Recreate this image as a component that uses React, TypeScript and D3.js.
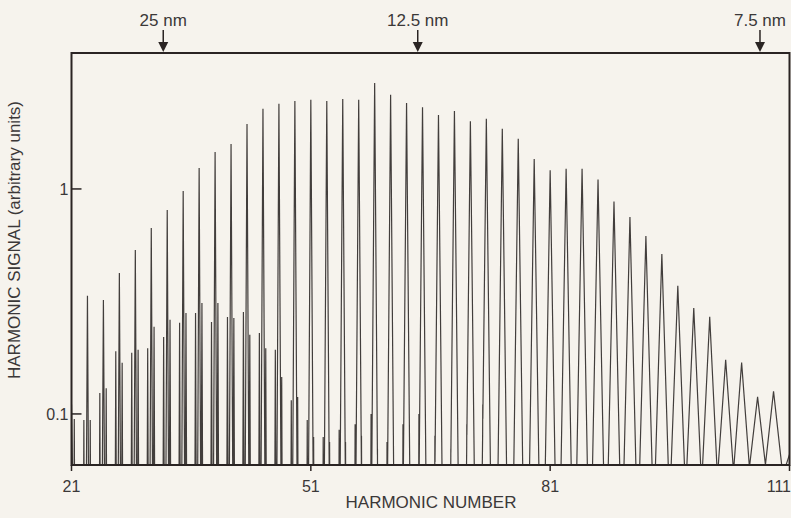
import React from 'react';
import { scaleLinear, scaleLog, line, range } from 'd3';

// odd harmonics, 21 ... 111
const harmonics = [
  21, 23, 25, 27, 29, 31, 33, 35, 37, 39, 41, 43, 45, 47, 49, 51, 53, 55, 57, 59, 61, 63, 65,
  67, 69, 71, 73, 75, 77, 79, 81, 83, 85, 87, 89, 91, 93, 95, 97, 99, 101, 103, 105, 107, 109, 111,
];
// main peak heights (arbitrary units)
const peakSignal = [
  0.11, 0.335, 0.321, 0.423, 0.536, 0.671, 0.807, 0.98, 1.24, 1.46, 1.585, 1.945, 2.27, 2.39,
  2.46, 2.49, 2.46, 2.51, 2.49, 2.96, 2.62, 2.41, 2.31, 2.13, 2.22, 2.0, 2.05, 1.85, 1.67, 1.36,
  1.21, 1.23, 1.23, 1.1, 0.88, 0.751, 0.618, 0.514, 0.371, 0.296, 0.27, 0.174, 0.169, 0.119,
  0.126, 0.066,
];
// satellite peaks just below / above each harmonic
const sideLow = [
  0.0, 0.094, 0.124, 0.19, 0.187, 0.196, 0.22, 0.254, 0.281, 0.256, 0.27, 0.284, 0.229, 0.193,
  0.115, 0.094, 0.079, 0.085, 0.09, 0.1, 0.075, 0.09, 0.1, 0.08, 0.07, 0.09, 0.11, 0.085, 0.08,
  0.075, 0.09, 0.08, 0.085, 0.075, 0.09, 0.08, 0.07, 0.075, 0.07, 0.065, 0.065, 0.07, 0.065,
  0.06, 0.06, 0.0,
];
const sideHigh = [
  0.095, 0.094, 0.13, 0.169, 0.193, 0.244, 0.262, 0.281, 0.311, 0.311, 0.267, 0.225, 0.196,
  0.146, 0.119, 0.079, 0.075, 0.075, 0.08, 0.07, 0.08, 0.075, 0.07, 0.085, 0.09, 0.075, 0.08,
  0.07, 0.09, 0.07, 0.08, 0.075, 0.09, 0.08, 0.07, 0.075, 0.08, 0.07, 0.075, 0.07, 0.065, 0.065,
  0.07, 0.06, 0.065, 0.0,
];

const xTicks = [21, 51, 81, 111];
const yTicks = [0.1, 1];
const yTickLabels = ['0.1', '1'];

const wavelengthLabels = ['25 nm', '12.5 nm', '7.5 nm'];
const wavelengthHarmonic = [32.5, 64.4, 107.3];

const W = 791;
const H = 518;
const plot = { left: 71.5, right: 789.5, top: 53, bottom: 465 };
const yMin = 0.0593;
const yMax = 4.02;

const ink = '#2a2423';
const textColor = '#3b3838';
const font = 'Liberation Sans, Arial, sans-serif';

// each line is a sharp cusp (straight sides on the log axis); its foot widens with order
function signalAt(h: number) {
  let v = 0.02;
  harmonics.forEach((c, i) => {
    const foot = 0.12 + 0.9 * Math.pow((c - 21) / 88, 1.6);
    const s = foot / Math.log(Math.max(peakSignal[i] / yMin, 1.3));
    v = Math.max(v, peakSignal[i] * Math.exp(-Math.abs(h - c) / s));
    const ss = 0.045;
    v = Math.max(v, sideLow[i] * Math.exp(-Math.abs(h - (c - 0.45)) / ss));
    v = Math.max(v, sideHigh[i] * Math.exp(-Math.abs(h - (c + 0.35)) / ss));
  });
  return v;
}

export default function App() {
  const x = scaleLinear().domain([21, 111]).range([plot.left, plot.right]);
  const y = scaleLog().domain([yMin, yMax]).range([plot.bottom, plot.top]);

  const samples = range(20.5, 111.5, 0.005).map(h => [h, signalAt(h)] as [number, number]);
  const path = line<[number, number]>()
    .x(d => x(d[0]))
    .y(d => y(d[1]))(samples);

  return (
    <svg
      width={W}
      height={H}
      style={{ position: 'absolute', left: 0, top: 0, display: 'block' }}
      fontFamily={font}
    >
      <rect width={W} height={H} fill="#f6f3ed" />
      <defs>
        <clipPath id="plotClip">
          <rect x={plot.left} y={plot.top} width={plot.right - plot.left} height={plot.bottom - plot.top} />
        </clipPath>
      </defs>

      <path d={path ?? ''} fill="none" stroke="#221d1c" strokeOpacity={0.85} strokeWidth={1.2} clipPath="url(#plotClip)" />

      {/* frame */}
      <rect
        x={plot.left}
        y={plot.top}
        width={plot.right - plot.left}
        height={plot.bottom - plot.top}
        fill="none"
        stroke={ink}
        strokeWidth={2}
      />

      {/* x axis ticks */}
      {xTicks.map((t, i) => (
        <g key={t} transform={`translate(${x(t)},${plot.bottom})`}>
          <line y1={0} y2={6} stroke={ink} strokeWidth={1.5} />
          <text
            x={i === xTicks.length - 1 ? 1.5 : 0}
            y={27}
            textAnchor={i === xTicks.length - 1 ? 'end' : 'middle'}
            fontSize={16}
            fill={textColor}
          >
            {t}
          </text>
        </g>
      ))}
      <text x={431} y={508} textAnchor="middle" fontSize={17} fill={textColor}>
        HARMONIC NUMBER
      </text>

      {/* y axis ticks */}
      {yTicks.map((t, i) => (
        <g key={t} transform={`translate(${plot.left},${y(t)})`}>
          <line x1={0} x2={10} stroke={ink} strokeWidth={1.5} />
          <text x={-3} dy="0.35em" textAnchor="end" fontSize={16} fill={textColor}>
            {yTickLabels[i]}
          </text>
        </g>
      ))}
      <text
        transform={`translate(20,${240}) rotate(-90)`}
        textAnchor="middle"
        fontSize={17}
        fill={textColor}
      >
        HARMONIC SIGNAL (arbitrary units)
      </text>

      {/* wavelength markers */}
      {wavelengthLabels.map((lab, i) => {
        const px = x(wavelengthHarmonic[i]);
        return (
          <g key={lab} transform={`translate(${px},0)`}>
            <text y={26} textAnchor="middle" fontSize={17} fill={textColor}>
              {lab}
            </text>
            <line y1={30} y2={44} stroke={ink} strokeWidth={1.5} />
            <path d="M-5,42 L5,42 L0,52 Z" fill={ink} />
          </g>
        );
      })}
    </svg>
  );
}
